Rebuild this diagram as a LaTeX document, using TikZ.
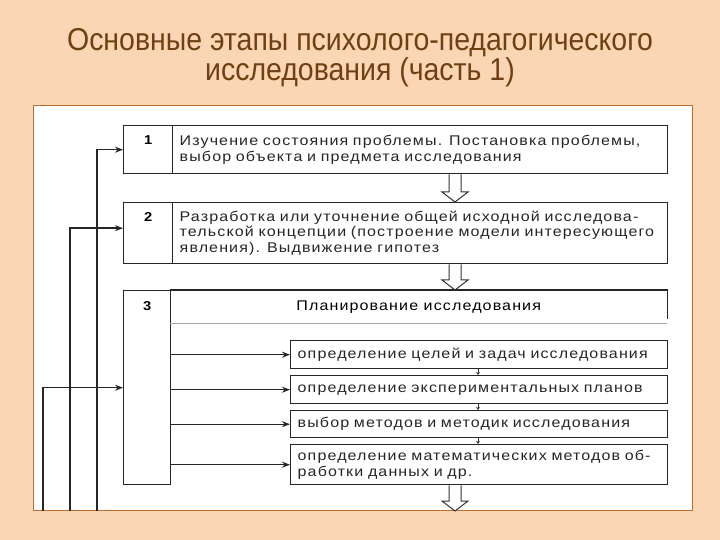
\documentclass[tikz,border=0pt]{standalone}
\usepackage{fontspec}
\setmainfont{Liberation Sans}
\newfontfamily\titlefont[FakeStretch=0.9]{Liberation Sans}
\newfontfamily\boxfont[FakeStretch=1.14,LetterSpace=8]{Liberation Sans}
\usetikzlibrary{calc,arrows.meta}
\newlength\px \setlength\px{0.03cm}
\definecolor{peach}{RGB}{250,214,180}
\definecolor{titlebrown}{RGB}{112,64,18}
\definecolor{panelrim}{RGB}{185,110,50}
\tikzset{
  boxline/.style={line width=1.4\px,black!85},
  numbox/.style={draw,boxline,inner sep=0pt,anchor=north west,minimum width=49\px},
  textbox/.style={draw,boxline,anchor=north west,inner xsep=7\px,inner ysep=0pt,
    text width=481\px,align=left,font=\boxfont\fontsize{12}{13.4}\selectfont},
  subbox/.style={textbox,text width=363\px},
  numtext/.style={font=\boxfont\bfseries\fontsize{11}{12}\selectfont},
  feed/.style={line width=1.4\px,black!85,-{Stealth[length=6.8pt,width=5.1pt]}},
  small/.style={line width=1\px,black!80,-{Stealth[length=2.6pt,width=3.4pt]}},
  hollow/.style={line width=1\px,black!80,fill=white}
}
% double stroke arrow from one point down to another
\newcommand\dblarrow[2]{%
  \draw[hollow] ($(#1)+(-6,0)$) -- ($(#2)+(-6,-10)$) -- ($(#2)+(-13,-10)$) -- (#2)
    -- ($(#2)+(13,-10)$) -- ($(#2)+(6,-10)$) -- ($(#1)+(6,0)$);}
\begin{document}
\begin{tikzpicture}[x=0.03cm,y=-0.03cm]
\fill[peach] (0,0) rectangle (720,540);
\useasboundingbox (0,0) rectangle (720,540);
\node[text=titlebrown,font=\titlefont\fontsize{27}{25.6}\selectfont,align=center] (title) at (360,58)
  {Основные этапы психолого-педагогического\\исследования (часть 1)};
\node[draw=panelrim,fill=white,line width=1\px,anchor=north west,minimum width=659\px,minimum height=405\px,inner sep=0pt] (panel) at (33,105) {};
% stage 1
\node[numbox,minimum height=48\px] (n1) at (123,125) {};
\node[textbox,minimum height=48\px] (t1) at (172,125)
  {Изучение состояния проблемы. Постановка проблемы,\\выбор объекта и предмета исследования};
\node[numtext] (l1) at ($(n1.north)+(0,15)$) {1};
% stage 2
\node[numbox,minimum height=61\px] (n2) at (123,202) {};
\node[textbox,minimum height=61\px] (t2) at (172,202)
  {Разработка или уточнение общей исходной исследова-\\тельской концепции (построение модели интересующего\\явления). Выдвижение гипотез};
\node[numtext] (l2) at ($(n2.north)+(0,15)$) {2};
% stage 3
\node[numbox,minimum width=47\px,minimum height=194\px] (n3) at (123,290) {};
\node[numtext] (l3) at ($(n3.north)+(0,16)$) {3};
\node[anchor=north west,minimum width=497\px,minimum height=33\px,inner sep=0pt,
  font=\boxfont\fontsize{12}{13.4}\selectfont] (h3) at (170,290) {Планирование исследования};
\draw[boxline] (h3.north west) -- (h3.north east) -- ($(h3.south east)+(0,-4)$);
\draw[black!35,line width=0.8\px] (h3.south west) -- (h3.south east);
\node[subbox,minimum height=28\px] (s1) at (290,340) {определение целей и задач исследования};
\node[subbox,minimum height=28\px] (s2) at (290,375) {определение экспериментальных планов};
\node[subbox,minimum height=27\px] (s3) at (290,410) {выбор методов и методик исследования};
\node[subbox,minimum height=40\px] (s4) at (290,444) {определение математических методов об-\\работки данных и др.};
\foreach \sb in {s1,s2,s3,s4}
  \draw[feed] (n3.east |- \sb.west) -- (\sb.west);
\coordinate (sx) at (478,0);
\draw[small] (sx |- s1.south) -- (sx |- s2.north);
\draw[small] (sx |- s2.south) -- (sx |- s3.north);
\draw[small] (sx |- s3.south) -- (sx |- s4.north);
% stage transitions
\coordinate (ax) at (455,0);
\dblarrow{ax |- t1.south}{ax |- t2.north}
\dblarrow{ax |- t2.south}{ax |- h3.north}
\dblarrow{ax |- s4.south}{ax |- panel.south}
% return lines
\coordinate (fa) at (97,0);
\coordinate (fb) at (70,0);
\coordinate (fc) at (43,0);
\draw[feed] (fa |- panel.south) |- (n1.west);
\draw[feed] (fb |- panel.south) |- ($(n2.west)+(0,-5)$);
\draw[feed] (fc |- panel.south) |- (n3.west);
\end{tikzpicture}
\end{document}
